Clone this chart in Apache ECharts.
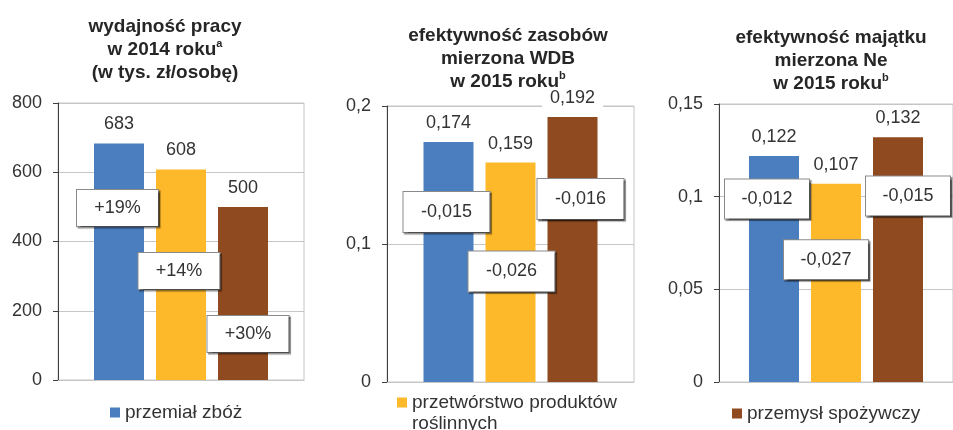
<!DOCTYPE html>
<html>
<head>
<meta charset="utf-8">
<script src="https://cdn.jsdelivr.net/npm/echarts@6/dist/echarts.min.js"></script>
<style>
  html, body { margin: 0; padding: 0; background: #fff; }
  #main { width: 953px; height: 430px; }
</style>
</head>
<body>
<div id="main"></div>
<script>
// three branches, same order in every panel
const categories = ["przemiał zbóż", "przetwórstwo produktów roślinnych", "przemysł spożywczy"];
const colors = ["#4a7ebf", "#fdb92a", "#8f4a20"];

// wydajność pracy 2014 (tys. zł/osobę) and change
const labour2014 = [683, 608, 500];
const labourChange = [19, 14, 30];

// efektywność zasobów (WDB) 2015 and change
const wdb2015 = [0.174, 0.159, 0.192];
const wdbChange = [-0.015, -0.026, -0.016];

// efektywność majątku (Ne) 2015 and change
const ne2015 = [0.122, 0.107, 0.132];
const neChange = [-0.012, -0.027, -0.015];

// y axes
const yMax = [800, 0.2, 0.15];
const yStep = [200, 0.1, 0.05];

// layout of the panels and of the change boxes
const grids = [
  { left: 58, width: 246, top: 103, height: 277 },
  { left: 387, width: 247, top: 106, height: 276 },
  { left: 719, width: 241, top: 104, height: 278 }
];
const boxAt = [[497, 315, 133], [0.1232, 0.0801, 0.1326], [0.0987, 0.0659, 0.1003]];
const boxShift = [[-1.5, -2, 5], [-2, 1, 8], [-7, -10, 10]];
const boxSize = [[81, 36], [86, 40], [84, 39]];

const values = [labour2014, wdb2015, ne2015];
const changes = [labourChange, wdbChange, neChange];

const font = "Liberation Sans, Arial, sans-serif";
const comma = (v) => String(v).replace(".", ",");
const fmtChange = (g, v) => (g === 0 ? "+" + v + "%" : comma(v));

const chart = echarts.init(document.getElementById("main"));

const series = [];
for (let g = 0; g < 3; g++) {
  for (let i = 0; i < 3; i++) {
    series.push({
      name: categories[i],
      type: "bar",
      xAxisIndex: g,
      yAxisIndex: g,
      barWidth: 50,
      barGap: "24%",
      itemStyle: { color: colors[i] },
      label: {
        show: true,
        position: "top",
        distance: 6,
        fontSize: 18,
        fontFamily: font,
        color: "#333",
        backgroundColor: "#fff",
        padding: [4, 8],
        formatter: (p) => comma(p.value)
      },
      data: [values[g][i]],
      markPoint: {
        silent: true,
        symbol: "rect",
        symbolSize: 1,
        itemStyle: { color: "rgba(0,0,0,0)" },
        label: {
          show: true,
          position: "inside",
          offset: [boxShift[g][i], 0],
          width: boxSize[g][0],
          height: boxSize[g][1],
          lineHeight: boxSize[g][1],
          align: "center",
          verticalAlign: "middle",
          fontSize: 18,
          fontFamily: font,
          color: "#333",
          backgroundColor: "#fff",
          borderColor: "#8a8a8a",
          borderWidth: 1,
          shadowColor: "rgba(0,0,0,0.45)",
          shadowOffsetX: 1.5,
          shadowOffsetY: 1.5,
          shadowBlur: 1,
          formatter: fmtChange(g, changes[g][i])
        },
        data: [{ coord: [0, boxAt[g][i]] }]
      }
    });
  }
}

const titleStyle = {
  fontSize: 19,
  fontWeight: "bold",
  fontFamily: font,
  color: "#262626",
  lineHeight: 23,
  rich: {
    sup: { fontSize: 11, fontWeight: "bold", fontFamily: font, color: "#262626", verticalAlign: "top", lineHeight: 14 }
  }
};

chart.setOption({
  animation: false,
  title: [
    { text: "wydajność pracy\nw 2014 roku{sup|a}\n(w tys. zł/osobę)", left: 160, top: 10, textAlign: "center", textStyle: titleStyle },
    { text: "efektywność zasobów\nmierzona WDB\nw 2015 roku{sup|b}", left: 503, top: 19, textAlign: "center", textStyle: titleStyle },
    { text: "efektywność majątku\nmierzona Ne\nw 2015 roku{sup|b}", left: 826, top: 21, textAlign: "center", textStyle: titleStyle },
    { text: "roślinnych", left: 412, top: 414, padding: 0, textStyle: { fontSize: 19, fontWeight: "normal", fontFamily: font, color: "#333" } }
  ],
  legend: [0, 1, 2].map((g) => ({
    data: [categories[g]],
    left: [110, 397, 732][g],
    top: [403, 393, 404][g],
    padding: 0,
    icon: "rect",
    itemWidth: 10,
    itemHeight: 10,
    selectedMode: false,
    textStyle: { fontSize: 19, fontFamily: font, color: "#333" },
    formatter: (name) => (name === categories[1] ? "przetwórstwo produktów" : name)
  })),
  grid: grids.map((r) => Object.assign({ show: true, borderColor: "#c6c6c6", borderWidth: 1 }, r)),
  xAxis: grids.map((r, g) => ({
    type: "category",
    gridIndex: g,
    data: [""],
    axisLine: { lineStyle: { color: "#c6c6c6" } },
    axisTick: { show: false },
    axisLabel: { show: false }
  })),
  yAxis: grids.map((r, g) => ({
    type: "value",
    gridIndex: g,
    min: 0,
    max: yMax[g],
    interval: yStep[g],
    axisLine: { show: true, lineStyle: { color: "#404040" } },
    axisTick: { show: true, length: 5, lineStyle: { color: "#404040" } },
    splitLine: { lineStyle: { color: "#c6c6c6" } },
    axisLabel: { margin: 16, fontSize: 18, fontFamily: font, color: "#333", formatter: (v) => comma(v) }
  })),
  series: series
});
</script>
</body>
</html>
